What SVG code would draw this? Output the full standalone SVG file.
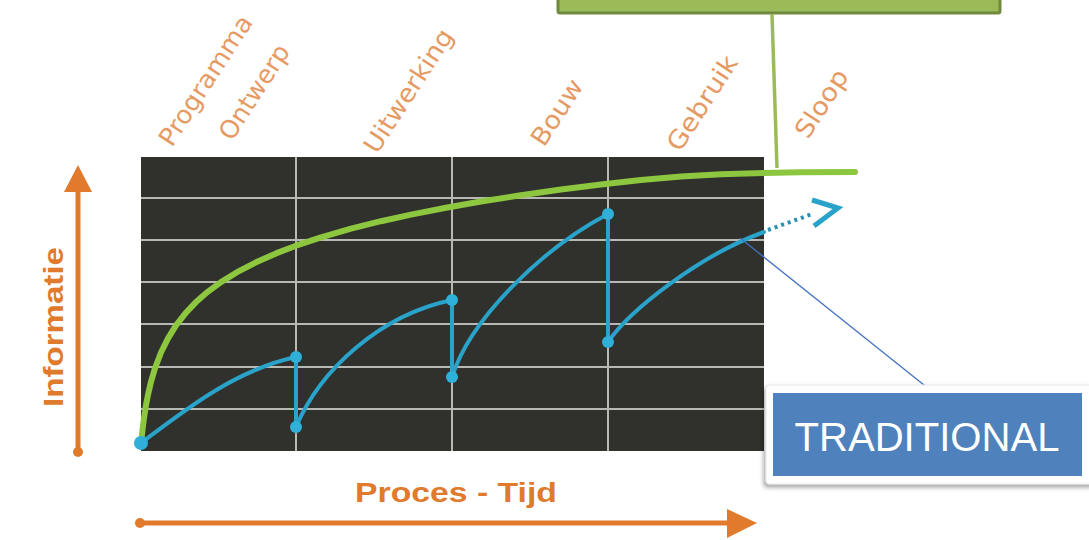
<svg xmlns="http://www.w3.org/2000/svg" width="1089" height="540" viewBox="0 0 1089 540">
  <style>
    .grid { stroke: #b9b9b4; stroke-width: 2; }
    .phase { font-family: "DejaVu Sans", "Liberation Sans", sans-serif; font-size: 25px; fill: #e69a63; }
    .axis { font-family: "Liberation Sans", Arial, sans-serif; font-weight: bold; font-size: 28px; fill: #e07a2c; }
    .orange { stroke: #e07a2c; fill: none; stroke-width: 5; }
    .blue { stroke: #2aa3cb; fill: none; stroke-width: 4; stroke-linecap: round; stroke-linejoin: round; }
    .bdot { fill: #2fb0d8; }
  </style>
  <defs>
    <filter id="sh" x="-10%" y="-20%" width="120%" height="150%">
      <feDropShadow dx="-2" dy="3" stdDeviation="2" flood-color="#000" flood-opacity="0.35"/>
    </filter>
  </defs>
  <rect width="1089" height="540" fill="#ffffff"/>

  <!-- Top green box -->
  <g id="top-box">
    <rect x="558" y="-12" width="442" height="25" rx="2" fill="#9bbb59" stroke="#71893f" stroke-width="3"/>
  </g>

  <!-- Chart background and grid -->
  <g id="chart">
    <rect x="141" y="157" width="623" height="294" fill="#30312d"/>
    <line class="grid" x1="141" y1="198" x2="764" y2="198"/>
    <line class="grid" x1="141" y1="240" x2="764" y2="240"/>
    <line class="grid" x1="141" y1="282" x2="764" y2="282"/>
    <line class="grid" x1="141" y1="324" x2="764" y2="324"/>
    <line class="grid" x1="141" y1="367" x2="764" y2="367"/>
    <line class="grid" x1="141" y1="409" x2="764" y2="409"/>
    <line class="grid" x1="296" y1="157" x2="296" y2="451"/>
    <line class="grid" x1="452" y1="157" x2="452" y2="451"/>
    <line class="grid" x1="608" y1="157" x2="608" y2="451"/>
  </g>

  <!-- Phase labels -->
  <g id="phase-labels">
    <text class="phase" transform="translate(172,148) rotate(-57)" textLength="150" lengthAdjust="spacingAndGlyphs">Programma</text>
    <text class="phase" transform="translate(232,142) rotate(-57)" textLength="108" lengthAdjust="spacingAndGlyphs">Ontwerp</text>
    <text class="phase" transform="translate(377,155) rotate(-57)" textLength="142" lengthAdjust="spacingAndGlyphs">Uitwerking</text>
    <text class="phase" transform="translate(544,148) rotate(-57)" textLength="74" lengthAdjust="spacingAndGlyphs">Bouw</text>
    <text class="phase" transform="translate(680,153) rotate(-57)" textLength="108" lengthAdjust="spacingAndGlyphs">Gebruik</text>
    <text class="phase" transform="translate(808,140) rotate(-57)" textLength="76" lengthAdjust="spacingAndGlyphs">Sloop</text>
  </g>

  <!-- Axes -->
  <g id="y-axis">
    <line class="orange" x1="78" y1="452" x2="78" y2="190"/>
    <circle cx="78" cy="452" r="5" fill="#e07a2c"/>
    <polygon points="78,165 92,192 64,192" fill="#e07a2c"/>
    <text class="axis" transform="translate(63,407) rotate(-90)" textLength="160" lengthAdjust="spacingAndGlyphs">Informatie</text>
  </g>
  <g id="x-axis">
    <line class="orange" x1="140" y1="523" x2="730" y2="523"/>
    <circle cx="140" cy="523" r="5" fill="#e07a2c"/>
    <polygon points="727,509 757,523 727,538" fill="#e07a2c"/>
    <text class="axis" x="355" y="502" textLength="202" lengthAdjust="spacingAndGlyphs">Proces - Tijd</text>
  </g>

  <!-- Green BIM curve -->
  <g id="green-curve">
    <path d="M141,445 L141.5,439.5 L142,434.5 L143,425.6 L144,418 L146,405.1 L148,394.7 L151,381.8 L155,368.2 L161,352.5 L168,338.3 L176,325.4 L186,312.6 L196,302.1 L208,291.6 L221,282.1 L237,272.2 L256,262.3 L276,253.4 L296,245.7 L321,237.4 L351,228.7 L381,221.2 L411,214.6 L446,207.7 L481,201.5 L521,195.2 L561,189.5 L601,184.4 L641,180 L681,176.6 L721,174.3 L764,173 L800,172.3 L855,172" fill="none" stroke="#8dc63f" stroke-width="6" stroke-linejoin="round" stroke-linecap="round"/>
  </g>

  <!-- Blue traditional curve -->
  <g id="blue-curve">
    <path class="blue" d="M141,443 C185,410 235,370 296,357 L296,427 C320,370 380,315 452,300 L452,377 C470,320 540,250 608,214 L608,342 C630,310 700,255 764,232"/>
    <line x1="768" y1="230" x2="812" y2="214" stroke="#2a8fae" stroke-width="4" stroke-dasharray="3 4"/>
    <polyline points="812,200 838,208 814,226" fill="none" stroke="#2aa3cb" stroke-width="5" stroke-linejoin="miter"/>
    <circle class="bdot" cx="141" cy="443" r="7"/>
    <circle class="bdot" cx="296" cy="357" r="6"/>
    <circle class="bdot" cx="296" cy="427" r="6"/>
    <circle class="bdot" cx="452" cy="300" r="6"/>
    <circle class="bdot" cx="452" cy="377" r="6"/>
    <circle class="bdot" cx="608" cy="214" r="6"/>
    <circle class="bdot" cx="608" cy="342" r="6"/>
  </g>

  <!-- Connectors -->
  <g id="connectors">
    <line x1="772" y1="14" x2="777" y2="168" stroke="#9bbb59" stroke-width="3.5"/>
    <line x1="740" y1="238" x2="929" y2="389" stroke="#4472c4" stroke-width="1.3"/>
  </g>

  <!-- TRADITIONAL callout -->
  <g id="traditional">
    <rect x="766" y="385" width="330" height="99" rx="3" fill="#ffffff" stroke="#e4e4e4" stroke-width="1" filter="url(#sh)"/>
    <rect x="773" y="393" width="309" height="83" fill="#4f81bd"/>
    <text x="927" y="451" text-anchor="middle" font-family="Liberation Sans, Arial, sans-serif" font-size="40" fill="#ffffff" textLength="265" lengthAdjust="spacingAndGlyphs">TRADITIONAL</text>
  </g>
</svg>
